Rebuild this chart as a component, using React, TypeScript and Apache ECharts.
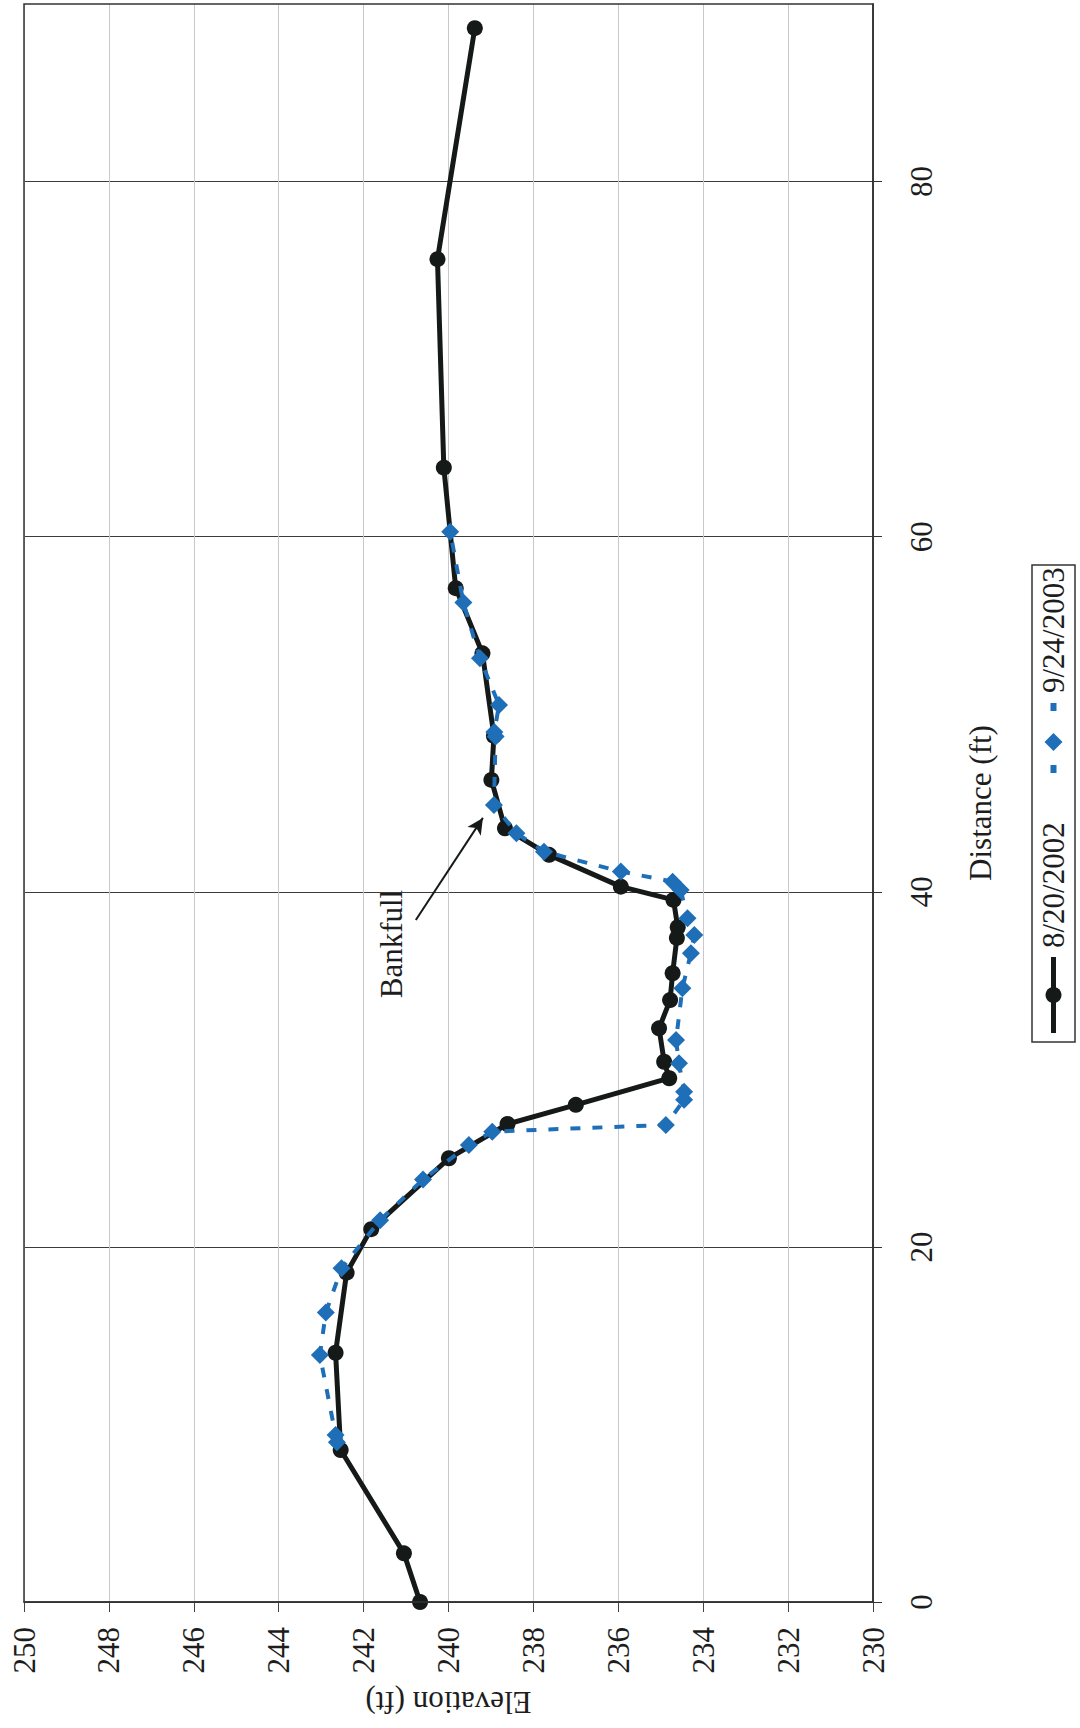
import React, { useEffect, useRef } from "react";
import * as echarts from "echarts";

// ---- Data ----
// 8/20/2002 survey: elevation (ft) and distance (ft)
const dist2002 = [0, 2.74, 8.56, 14.04, 18.55, 21.0, 24.99, 26.92, 28.0, 29.5, 30.43, 32.31, 33.9, 35.41, 37.4, 38.0, 39.54, 40.29, 42.08, 43.58, 46.3, 48.78, 53.43, 57.1, 63.89, 75.63, 88.64];
const elev2002 = [240.67, 241.05, 242.54, 242.66, 242.4, 241.82, 239.99, 238.61, 237.0, 234.8, 234.92, 235.04, 234.78, 234.72, 234.62, 234.6, 234.7, 235.94, 237.63, 238.67, 238.99, 238.93, 239.2, 239.83, 240.11, 240.26, 239.38];

// 9/24/2003 survey
const dist2003 = [9.0, 9.4, 13.91, 16.3, 18.8, 21.5, 23.8, 25.74, 26.49, 26.87, 28.28, 28.74, 30.34, 31.65, 34.57, 36.54, 37.57, 38.51, 40.1, 40.57, 41.14, 42.26, 43.3, 44.89, 48.74, 49.0, 50.52, 53.15, 56.29, 60.28];
const elev2003 = [242.63, 242.66, 243.03, 242.89, 242.52, 241.61, 240.6, 239.52, 238.97, 234.88, 234.45, 234.45, 234.57, 234.64, 234.49, 234.29, 234.21, 234.37, 234.53, 234.72, 235.94, 237.75, 238.4, 238.93, 238.89, 238.92, 238.81, 239.26, 239.65, 239.96];

// Axis ticks / labels
const elevLabels = [230, 232, 234, 236, 238, 240, 242, 244, 246, 248, 250];
const distLabels = [0, 20, 40, 60, 80];

// Bankfull annotation arrow (data units: [elevation, distance])
const bankfullFrom = [240.77, 38.41];
const bankfullTo = [239.19, 44.16];

const seriesNames = ["8/20/2002", "9/24/2003"];

const FONT = "'Liberation Serif', 'Times New Roman', serif";
const BLACK = "#151a18";
const BLUE = "#1f6fb8";
const TEXT = "#1d1d1d";

export default function App() {
  const ref = useRef<HTMLDivElement>(null);

  useEffect(() => {
    if (!ref.current) return;
    const chart = echarts.init(ref.current, null, { renderer: "svg" });

    const d2002 = elev2002.map((e, i) => [e, dist2002[i]]);
    const d2003 = elev2003.map((e, i) => [e, dist2003[i]]);

    const legendY = 21.5;
    const legendFont = `31px ${FONT}`;

    chart.setOption({
      animation: false,
      backgroundColor: "#ffffff",
      grid: {
        left: 24,
        right: 207,
        top: 4,
        bottom: 126,
        show: true,
        borderColor: "#333333",
        borderWidth: 1.5,
        backgroundColor: "transparent",
        containLabel: false,
        outerBoundsMode: "none",
        z: 3,
      },
      xAxis: {
        type: "value",
        inverse: true,
        position: "bottom",
        min: 230,
        max: 250,
        interval: 1,
        name: "Elevation (ft)",
        nameLocation: "middle",
        nameRotate: 180,
        nameGap: 85,
        nameTextStyle: { fontFamily: FONT, fontSize: 31, color: TEXT },
        axisLine: { show: true, onZero: false, lineStyle: { color: "#333333", width: 1.5 } },
        axisTick: { show: true, length: 10, customValues: elevLabels, lineStyle: { color: "#444444", width: 1 } },
        axisLabel: {
          customValues: elevLabels,
          rotate: 90,
          margin: 25,
          fontFamily: FONT,
          fontSize: 31,
          color: TEXT,
        },
        splitLine: { show: true, lineStyle: { color: "#c8c8d0", width: 1 } },
      },
      yAxis: {
        type: "value",
        position: "right",
        min: 0,
        max: 90,
        interval: 10,
        name: "Distance (ft)",
        nameLocation: "middle",
        nameRotate: 90,
        nameGap: 92,
        nameTextStyle: { fontFamily: FONT, fontSize: 31, color: TEXT },
        axisLine: { show: true, onZero: false, lineStyle: { color: "#222222", width: 1.5 } },
        axisTick: { show: true, length: 9, customValues: distLabels, lineStyle: { color: "#333333", width: 1 } },
        axisLabel: {
          customValues: distLabels,
          rotate: 90,
          margin: 33,
          fontFamily: FONT,
          fontSize: 31,
          color: TEXT,
        },
        splitLine: { show: true, lineStyle: { color: "#3c3c3c", width: 1 } },
      },
      series: [
        {
          name: seriesNames[0],
          type: "line",
          data: d2002,
          symbol: "circle",
          symbolSize: 16,
          itemStyle: { color: BLACK },
          lineStyle: { color: BLACK, width: 5 },
          emphasis: { disabled: true },
          z: 2,
          markLine: {
            silent: true,
            symbol: ["none", "arrow"],
            symbolSize: [12, 16],
            lineStyle: { color: BLACK, width: 2, type: "solid" },
            label: { show: false },
            emphasis: { disabled: true },
            data: [[{ coord: bankfullFrom }, { coord: bankfullTo }]],
          },
        },
        {
          name: seriesNames[1],
          type: "line",
          data: d2003,
          symbol: "diamond",
          symbolSize: 18,
          itemStyle: { color: BLUE },
          lineStyle: { color: BLUE, width: 4, type: [10, 12] },
          emphasis: { disabled: true },
          z: 3,
        },
      ],
      graphic: [
        {
          type: "text",
          x: 391,
          y: 944,
          rotation: Math.PI / 2,
          style: {
            text: "Bankfull",
            font: `31px ${FONT}`,
            fill: TEXT,
            textAlign: "center",
            textVerticalAlign: "middle",
          },
        },
        {
          type: "group",
          x: 1032,
          y: 1042,
          rotation: Math.PI / 2,
          children: [
            {
              type: "rect",
              shape: { x: 0, y: 0, width: 477, height: 43 },
              style: { fill: "#ffffff", stroke: "#333333", lineWidth: 1.5 },
            },
            {
              type: "line",
              shape: { x1: 9, y1: legendY, x2: 85, y2: legendY },
              style: { stroke: BLACK, lineWidth: 5 },
            },
            {
              type: "circle",
              shape: { cx: 47, cy: legendY, r: 8 },
              style: { fill: BLACK },
            },
            {
              type: "text",
              x: 94,
              y: legendY,
              style: {
                text: seriesNames[0],
                font: legendFont,
                fill: TEXT,
                textAlign: "left",
                textVerticalAlign: "middle",
              },
            },
            {
              type: "rect",
              shape: { x: 269, y: legendY - 3, width: 8, height: 6 },
              style: { fill: BLUE },
            },
            {
              type: "rect",
              shape: { x: 331, y: legendY - 3, width: 8, height: 6 },
              style: { fill: BLUE },
            },
            {
              type: "polygon",
              shape: {
                points: [
                  [291, legendY],
                  [300, legendY - 9],
                  [309, legendY],
                  [300, legendY + 9],
                ],
              },
              style: { fill: BLUE },
            },
            {
              type: "text",
              x: 349,
              y: legendY,
              style: {
                text: seriesNames[1],
                font: legendFont,
                fill: TEXT,
                textAlign: "left",
                textVerticalAlign: "middle",
              },
            },
          ],
        },
      ],
    });

    return () => chart.dispose();
  }, []);

  return (
    <div
      ref={ref}
      style={{ position: "fixed", left: 0, top: 0, width: 1080, height: 1728, background: "#fff" }}
    />
  );
}
